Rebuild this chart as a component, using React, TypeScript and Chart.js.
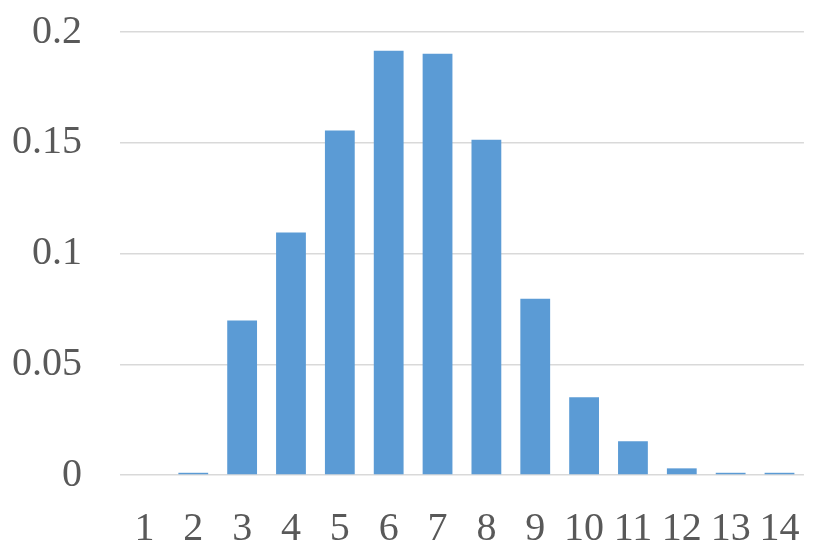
import React, { useEffect, useRef } from "react";
import { Chart, registerables } from "chart.js";

Chart.register(...registerables);

const categories: string[] = ["1", "2", "3", "4", "5", "6", "7", "8", "9", "10", "11", "12", "13", "14"];
const values: number[] = [0, 0.001, 0.0697, 0.1095, 0.1555, 0.1915, 0.1902, 0.1513, 0.0796, 0.0351, 0.0152, 0.003, 0.001, 0.001];
const yTicks: number[] = [0, 0.05, 0.1, 0.15, 0.2];

export default function App() {
  const ref = useRef<HTMLCanvasElement | null>(null);
  useEffect(() => {
    if (!ref.current) return;
    const chart = new Chart(ref.current, {
      type: "bar",
      data: {
        labels: categories,
        datasets: [
          {
            data: values,
            backgroundColor: "#5B9BD5",
            borderWidth: 0,
            barPercentage: 0.61,
            categoryPercentage: 1,
          },
        ],
      },
      options: {
        animation: false,
        responsive: false,
        maintainAspectRatio: false,
        layout: { autoPadding: false, padding: { left: 10, right: 14, top: 0, bottom: 10 } },
        plugins: { legend: { display: false }, tooltip: { enabled: false } },
        scales: {
          x: {
            grid: { display: false, drawTicks: false },
            border: { display: false },
            afterFit: (axis: any) => {
              axis.height = 74;
            },
            ticks: {
              color: "#595959",
              font: { family: "'Liberation Serif', 'Times New Roman', serif", size: 40 },
              padding: 30,
              maxRotation: 0,
              autoSkip: false,
            },
          },
          y: {
            min: 0,
            max: 0.2,
            afterBuildTicks: (axis: any) => {
              axis.ticks = yTicks.map((v) => ({ value: v }));
            },
            afterFit: (axis: any) => {
              axis.width = 110;
            },
            grid: { color: "#D9D9D9", lineWidth: 1.5, drawTicks: true, tickLength: 30, tickColor: "rgba(0,0,0,0)" },
            border: { display: false },
            ticks: {
              color: "#595959",
              font: { family: "'Liberation Serif', 'Times New Roman', serif", size: 40 },
              padding: 8,
              callback: (v: any) => String(Number(Number(v).toFixed(2))),
            },
          },
        },
      },
    });
    return () => chart.destroy();
  }, []);
  return (
    <div style={{ position: "absolute", left: 0, top: 0, width: 830, height: 559, background: "#fff" }}>
      <canvas ref={ref} width={830} height={559} style={{ width: 830, height: 559 }} />
    </div>
  );
}
